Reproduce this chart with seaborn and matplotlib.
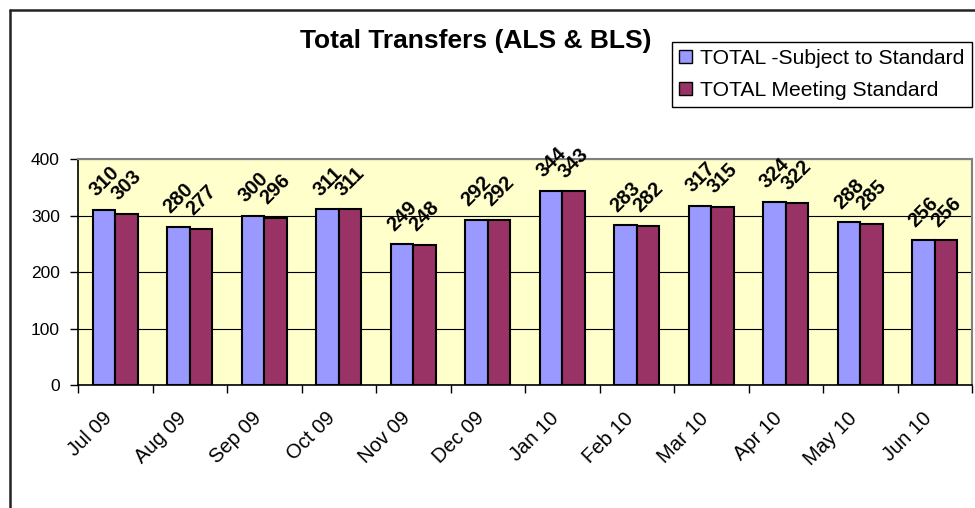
import matplotlib
matplotlib.use("Agg")
import matplotlib.pyplot as plt
import matplotlib.lines as mlines
import matplotlib.patches as mpatches
import matplotlib.transforms as mtransforms
import pandas as pd
import seaborn as sns

# values
months = ["Jul 09", "Aug 09", "Sep 09", "Oct 09", "Nov 09", "Dec 09",
          "Jan 10", "Feb 10", "Mar 10", "Apr 10", "May 10", "Jun 10"]
subject_to_standard = [310, 280, 300, 311, 249, 292, 344, 283, 317, 324, 288, 256]
meeting_standard = [303, 277, 296, 311, 248, 292, 343, 282, 315, 322, 285, 256]
series_names = ["TOTAL -Subject to Standard", "TOTAL Meeting Standard"]
y_ticks = [0, 100, 200, 300, 400]

colors = ["#9999FF", "#993366"]

df = pd.DataFrame({
    "Month": months * 2,
    "Count": subject_to_standard + meeting_standard,
    "Series": [series_names[0]] * len(months) + [series_names[1]] * len(months),
})

sns.set_style("white")
plt.rcParams["font.family"] = ["Liberation Sans", "DejaVu Sans"]
plt.rcParams["text.color"] = "black"
plt.rcParams["xtick.color"] = "black"
plt.rcParams["ytick.color"] = "black"

fig = plt.figure(figsize=(9.75, 5.08), dpi=100)
ax = fig.add_axes([0.08, 0.242, 0.917, 0.445])
ax.set_facecolor("#FFFFCC")

sns.barplot(
    data=df, x="Month", y="Count", hue="Series", order=months,
    hue_order=series_names, palette=colors, width=0.6,
    edgecolor="black", linewidth=1.5, saturation=1, legend=False, ax=ax,
)

# rotated bold value labels above each bar
for container in ax.containers:
    ax.bar_label(container, fmt="%d", rotation=45, padding=7,
                 fontsize=14.5, fontweight="bold", color="black")

ax.set_ylim(0, 400)
ax.set_xlim(-0.5, len(months) - 0.5)
ax.set_yticks(y_ticks)
ax.yaxis.grid(True, color="black", linewidth=0.8)
ax.set_axisbelow(True)
ax.set_xlabel("")
ax.set_ylabel("")

ax.tick_params(axis="y", direction="out", length=6, width=1, labelsize=12.5,
               left=True, pad=7)
ax.set_xticks(range(len(months)))
ax.set_xticklabels(months, rotation=45, ha="right", va="top",
                   rotation_mode="anchor", fontsize=14.5)
ax.tick_params(axis="x", length=0, pad=17)
shift = mtransforms.ScaledTranslation(-13 / 100, 0, fig.dpi_scale_trans)
for lbl in ax.get_xticklabels():
    lbl.set_transform(lbl.get_transform() + shift)
ax.set_xticks([i + 0.5 for i in range(-1, len(months))], minor=True)
ax.tick_params(axis="x", which="minor", direction="out", length=6, width=1,
               bottom=True)

for side in ["top", "right"]:
    ax.spines[side].set_color("#808080")
    ax.spines[side].set_linewidth(1.5)
for side in ["left", "bottom"]:
    ax.spines[side].set_color("black")
    ax.spines[side].set_linewidth(1.2)

fig.text(0.488, 0.92, "Total Transfers (ALS & BLS)", ha="center", va="center",
         fontsize=19, fontweight="bold")

handles = [mpatches.Patch(facecolor=c, edgecolor="black", linewidth=1) for c in colors]
leg = fig.legend(handles, series_names, loc="upper left",
                 bbox_to_anchor=(0.689, 0.918), fontsize=15.2, frameon=True,
                 fancybox=False, edgecolor="black", framealpha=1,
                 handlelength=0.6, handleheight=0.6, handletextpad=0.4,
                 borderpad=0.35, labelspacing=0.6, borderaxespad=0)
leg.get_frame().set_linewidth(1)

# outer chart-area border (left and top edges visible)
fig.add_artist(mlines.Line2D([10 / 975, 10 / 975], [0, 1 - 9.5 / 508],
                             color="#222222", linewidth=1.8))
fig.add_artist(mlines.Line2D([10 / 975, 1], [1 - 9.5 / 508, 1 - 9.5 / 508],
                             color="#222222", linewidth=1.8))

fig.savefig("out.png", dpi=100)
